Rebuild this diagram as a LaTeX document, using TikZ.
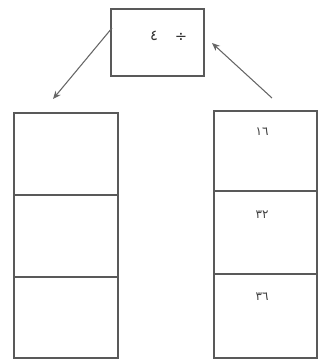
\documentclass[tikz,border=0pt]{standalone}
\usepackage{fontspec}
\newfontfamily\arabicfont[Script=Arabic]{DejaVu Sans}
\usetikzlibrary{arrows.meta}
\tikzset{
  cellbox/.style={draw=black!65, line width=0.9pt, inner sep=0pt},
  digit/.style={text=black!75, font=\arabicfont\fontsize{9}{10}\selectfont, inner sep=0pt},
  bigdigit/.style={text=black!80, font=\arabicfont\fontsize{11}{12}\selectfont, inner sep=0pt},
  arr/.style={draw=black!60, line width=0.8pt, -{Stealth[length=6pt,width=5pt]}}
}
\begin{document}
\begin{tikzpicture}[x=0.75pt,y=-0.75pt]
\useasboundingbox (0,0) rectangle (322,360);
% top box
\node[cellbox, minimum width=93*0.75pt, minimum height=67*0.75pt] (top) at (157.5,42.5) {};
\node[bigdigit] (four) at (154,36) {٤};
\node[bigdigit] (divs) at (181,37) {÷};
% left column
\node[cellbox, minimum width=104*0.75pt, minimum height=82*0.75pt] (l1) at (66,154) {};
\node[cellbox, minimum width=104*0.75pt, minimum height=82*0.75pt] (l2) at (66,236) {};
\node[cellbox, minimum width=104*0.75pt, minimum height=81*0.75pt] (l3) at (66,317.5) {};
% right column
\node[cellbox, minimum width=103*0.75pt, minimum height=80*0.75pt] (r1) at (265.5,151) {};
\node[cellbox, minimum width=103*0.75pt, minimum height=83*0.75pt] (r2) at (265.5,232.5) {};
\node[cellbox, minimum width=103*0.75pt, minimum height=84*0.75pt] (r3) at (265.5,316) {};
\node[digit] (t1) at (262,132) {١٦};
\node[digit] (t2) at (262,215) {٣٢};
\node[digit] (t3) at (262,297) {٣٦};
% arrows
\coordinate (a1s) at (112,28);
\coordinate (a1e) at (53,99);
\coordinate (a2s) at (272,98);
\coordinate (a2e) at (212,43);
\draw[arr] (a1s) -- (a1e);
\draw[arr] (a2s) -- (a2e);
\end{tikzpicture}
\end{document}
